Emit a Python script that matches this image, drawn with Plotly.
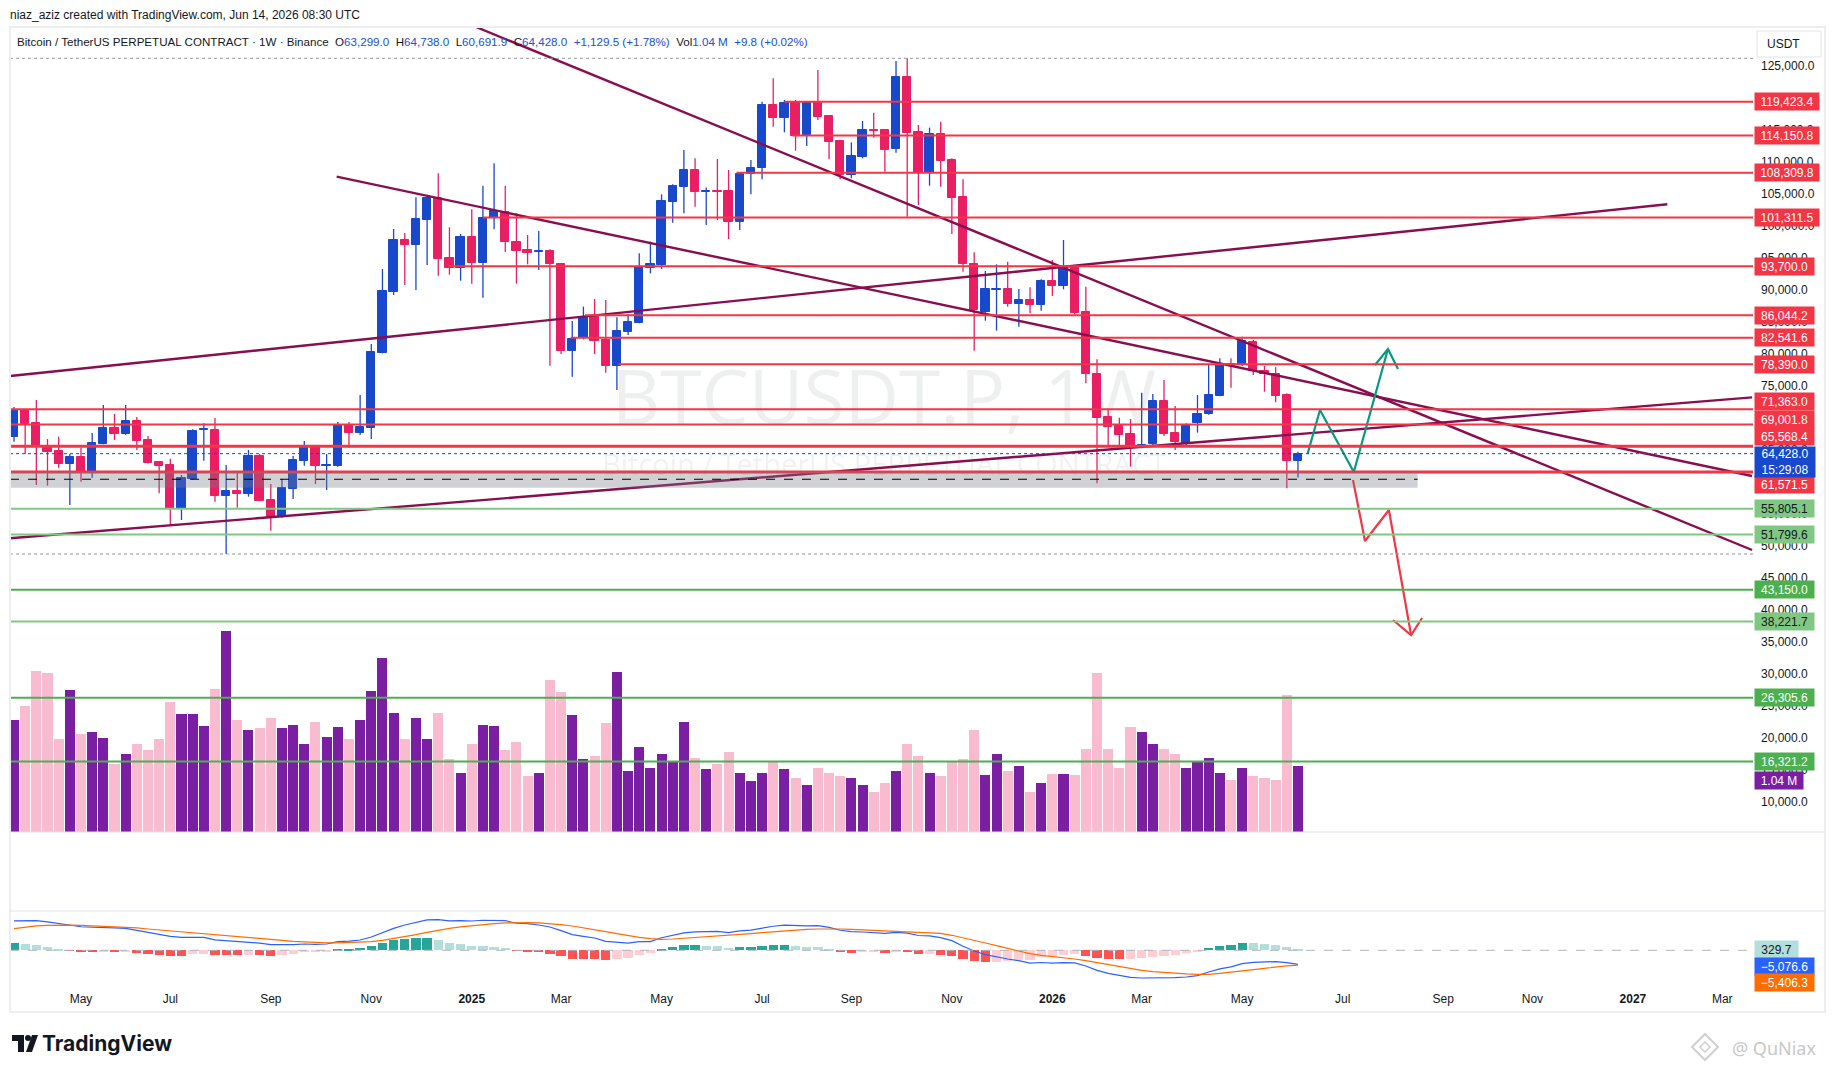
import pandas as pd
import plotly.graph_objects as go

W, H = 1835, 1073

# ---- weekly candles BTCUSDT.P (Binance, 1W), first bar = week of 2024-03-25
first_week = '2024-03-25'
opens = [67080, 71250, 69170, 65520, 64840, 62870, 63910, 61620, 65940, 68440,
         67500, 69530, 66560, 63130, 62660, 55780, 60470, 68130, 68130, 57870,
         58590, 58180, 64060, 57190, 54580, 58910, 63330, 65470, 62550, 62550,
         68850, 67710, 68490, 80210, 89740, 97810, 97030, 100940, 104430, 94950,
         93490, 98230, 94270, 101200, 102240, 97450, 96250, 95990, 96090, 94010,
         80520, 82450, 85830, 82190, 78180, 83440, 84900, 93490, 93910, 103800,
         106150, 108750, 105370, 105470, 105470, 100680, 108130, 109060, 118910, 116930,
         119170, 114220, 119170, 117190, 113280, 107970, 110830, 115000, 115000, 111980,
         123230, 114640, 108230, 114320, 110310, 104480, 94010, 86620, 90000, 90100,
         87810, 88440, 87660, 91410, 90630, 93490, 86560, 76820, 70210, 68800,
         67500, 65420, 65940, 72660, 67600, 65890, 69170, 70570, 73490, 78440,
         78280, 81930, 77340, 76820, 73590, 63299]
highs = [71720, 71400, 72810, 66720, 67080, 64380, 65370, 67660, 72030, 70630,
         72030, 70160, 67190, 63230, 63650, 61090, 68230, 69170, 70000, 62660,
         61720, 65000, 64380, 59690, 60470, 64060, 66410, 65500, 64380, 69380,
         69380, 73590, 81560, 93280, 99530, 98910, 104480, 104840, 108230, 99790,
         98750, 102600, 106300, 109790, 106300, 101980, 98590, 99220, 96350, 94170,
         85160, 87400, 88590, 88440, 85730, 86250, 95730, 97550, 104950, 106510,
         111880, 110570, 106000, 110470, 108750, 108230, 110310, 119430, 123070, 119690,
         119690, 119380, 124380, 117340, 113440, 113070, 116410, 117710, 115110, 125780,
         126200, 115780, 115370, 116300, 110570, 107290, 95890, 92970, 94010, 94430,
         90160, 90420, 91670, 94690, 97810, 93650, 90520, 79170, 71250, 70050,
         69840, 73960, 73750, 75940, 71880, 69170, 73590, 78280, 79320, 79320,
         82710, 82190, 78130, 77920, 73860, 64738]
lows = [66300, 64380, 59530, 59430, 62240, 56410, 60050, 60680, 65900, 66560,
        67400, 65000, 62900, 58230, 53280, 54060, 60400, 63330, 56930, 48750,
        55990, 57710, 57000, 52400, 54430, 57340, 62550, 59690, 58750, 62400,
        65370, 67340, 66720, 80100, 89220, 90780, 90000, 93910, 92240, 92400,
        91460, 90990, 88800, 99480, 95940, 90990, 94010, 93130, 78180, 80000,
        76460, 82300, 80000, 77080, 74380, 82970, 84800, 92600, 93280, 100520,
        101980, 103020, 100160, 100940, 97970, 99380, 104950, 107290, 115520, 114640,
        111770, 112500, 116560, 110420, 107290, 107450, 110570, 113800, 108490, 111460,
        101460, 103280, 106300, 106150, 98750, 92870, 80520, 85210, 83650, 87400,
        84270, 86360, 86770, 89060, 90100, 86200, 75420, 59790, 65520, 65520,
        62400, 65260, 65780, 67190, 65000, 65630, 67710, 70500, 73400, 74740,
        78130, 76720, 74110, 72450, 59010, 60691.9]
closes = [71250, 69010, 65420, 64740, 62870, 63910, 61620, 66040, 68490, 67500,
          69530, 66410, 62970, 62500, 55780, 60570, 67970, 68230, 57870, 58590,
          58180, 64060, 57080, 54580, 59010, 63440, 65470, 62550, 62660, 68850,
          67710, 68590, 80310, 89840, 97810, 97030, 101090, 104430, 94840, 93490,
          98230, 94270, 101200, 102340, 97450, 96150, 95830, 96040, 94010, 80520,
          82290, 85830, 82080, 78180, 83590, 85000, 93650, 94010, 103910, 106250,
          108750, 105370, 105470, 105370, 100680, 108130, 109060, 118910, 116930, 119170,
          114060, 119170, 117080, 113180, 107970, 110940, 115000, 114900, 111880, 123230,
          114580, 108230, 114320, 110210, 104430, 94010, 86880, 90100, 90100, 87810,
          88440, 87660, 91410, 90630, 93650, 86360, 76820, 70050, 68650, 67340,
          65420, 65780, 72660, 67500, 66200, 68750, 70570, 73590, 78440, 78100,
          82030, 77340, 76820, 73490, 63298.5, 64428]
# volume in millions
volume_m = [1.77, 1.99, 2.54, 2.51, 1.47, 2.24, 1.55, 1.58, 1.48, 1.08,
            1.24, 1.40, 1.29, 1.47, 2.05, 1.86, 1.86, 1.67, 2.27, 3.18,
            1.77, 1.61, 1.64, 1.81, 1.64, 1.70, 1.39, 1.74, 1.50, 1.66,
            1.47, 1.78, 2.23, 2.76, 1.89, 1.47, 1.80, 1.47, 1.88,
            1.15, 0.94, 1.39, 1.70, 1.67, 1.29, 1.42, 0.88, 0.93, 2.40,
            2.21, 1.85, 1.15, 1.20, 1.72, 2.53, 0.96, 1.34, 1.01, 1.24,
            1.10, 1.74, 1.17, 0.99, 1.07, 1.26, 0.94, 0.80, 0.94, 1.12,
            0.99, 0.86, 0.74, 1.01, 0.93, 0.88, 0.85, 0.74, 0.64, 0.77,
            0.96, 1.39, 1.21, 0.94, 0.88, 1.10, 1.15, 1.62, 0.90, 1.24,
            0.96, 1.05, 0.64, 0.77, 0.91, 0.91, 0.90, 1.31, 2.51, 1.31,
            1.01, 1.66, 1.58, 1.39, 1.32, 1.24, 1.01, 1.13, 1.17, 0.94,
            0.83, 1.01, 0.88, 0.86, 0.83, 2.16, 1.04]
# MACD (12, 26, 9)
macd_hist = [2780, 2300, 1940, 1210, 480, -240, -480, -530, -370, -470,
             -420, -950, -1310, -1680, -1950, -2000, -1470, -1210, -1790, -1840,
             -1840, -1680, -1740, -1950, -1680, -1210, -740, -630, -370, 480,
             580, 840, 1680, 2780, 3730, 4210, 4470, 4490, 3730, 2680,
             2310, 1680, 1580, 1210, 840, -210, -370, -740, -1210, -2160,
             -3160, -3160, -3160, -3520, -3050, -2680, -1580, -1100, 580, 1210,
             1940, 1960, 1580, 1580, 840, 1210, 1250, 1580, 1950, 1990,
             1580, 1210, 1210, 470, -470, -840, -790, -740, -950, -470,
             -530, -1210, -1160, -1580, -1950, -3160, -3890, -4210, -4160, -3890,
             -3520, -3470, -2600, -2450, -1850, -1450, -1950, -2790, -3160, -3210,
             -3160, -2790, -2310, -1950, -1580, -1100, -470, 840, 1580, 1950,
             2680, 2630, 2310, 1950, 1210, 329.7]
macd_signal = [7870, 8470, 8830, 9080, 9200, 9140, 9020, 8890, 8710, 8590,
               8350, 8110, 7740, 7380, 7020, 6660, 6290, 5930, 5570, 5320,
               4960, 4720, 4360, 3990, 3630, 3270, 3030, 2780, 2660, 2660,
               2780, 2900, 3150, 3630, 4240, 4960, 5690, 6530, 7380, 7990,
               8470, 8950, 9320, 9680, 9920, 10040, 10040, 9920, 9680, 9320,
               8830, 8230, 7620, 6780, 6050, 5320, 4720, 4240, 3990, 4110,
               4360, 4720, 5080, 5320, 5570, 5810, 6050, 6410, 6780, 7140,
               7380, 7620, 7740, 7870, 7740, 7620, 7440, 7260, 7080, 6960,
               6780, 6590, 6410, 6170, 5450, 4600, 3630, 2660, 1690, 730,
               -240, -1210, -1820, -2180, -2660, -3150, -3750, -4480, -5200, -5930,
               -6660, -7260, -7740, -8110, -8350, -8590, -8710, -8710, -8350, -7990,
               -7500, -7020, -6530, -6050, -5690, -5406.3]
macd_line = [10650, 10770, 10770, 10290, 9680, 8900, 8540, 8360, 8340, 8120,
             7930, 7160, 6430, 5700, 5070, 4660, 4820, 4720, 3780, 3480,
             3120, 3040, 2620, 2040, 1950, 2060, 2290, 2150, 2290, 3140,
             3360, 3740, 4830, 6410, 7970, 9170, 10160, 11020, 11110, 10670,
             10780, 10630, 10900, 10890, 10760, 9830, 9670, 9180, 8470, 7160,
             5670, 5070, 4460, 3260, 3000, 2640, 3140, 3140, 4570, 5320,
             6300, 6680, 6660, 6900, 6410, 7020, 7300, 7990, 8730, 9130,
             8960, 8830, 8950, 8340, 7270, 6780, 6650, 6520, 6130, 6490,
             6250, 5380, 5250, 4590, 3500, 1440, -260, -1550, -2470, -3160,
             -3760, -4680, -4420, -4630, -4510, -4600, -5700, -7270, -8360, -9140,
             -9820, -10050, -10050, -10060, -9930, -9690, -9180, -7870, -6770, -6040,
             -4820, -4390, -4220, -4100, -4480, -5076.6]

# ---- drawings on the chart
red_levels = [119423.4, 114150.8, 108309.8, 101311.5, 93700.0, 86044.2,
              82541.6, 78390.0, 71363.0, 69001.8, 65568.4, 61571.5]
red_level_start = ['2025-07-21', '2025-07-26', '2025-06-21', '2025-01-13', '2024-12-22',
                   '2025-03-18', '2025-03-09', '2025-04-08', None, None, None, None]
green_levels = [55805.1, 51799.6, 43150.0, 38221.7, 26305.6, 16321.2]
green_light = [True, True, False, True, False, False]
zone_low, zone_high, zone_mid, zone_end = 59110, 61610, 60430, '2026-08-22'

trend_x = [['2025-01-08 16:00', '2027-03-19 17:00'],
           ['2024-10-13 07:00', '2027-03-19 17:00'],
           ['2024-03-22 12:00', '2027-01-25 14:00'],
           ['2024-03-22 12:00', '2027-03-19 17:00']]
trend_y = [[131094, 49375], [107703, 60938], [76562, 103391], [51203, 73219]]

bull_x = ['2026-06-14', '2026-06-21 19:00', '2026-07-13', '2026-08-03 10:00']
bull_y = [64375, 71250, 61562, 80781]
bull_head_x = ['2026-07-26 07:00', '2026-08-03 10:00', '2026-08-09 17:00']
bull_head_y = [78281, 80781, 77656]
bear_x = ['2026-07-12 12:00', '2026-07-20', '2026-08-04', '2026-08-17 22:00']
bear_y = [60312, 50781, 55625, 36094]
bear_head_x = ['2026-08-06 14:00', '2026-08-17 22:00', '2026-08-24 19:00']
bear_head_y = [38437, 36094, 38750]

month_ticks = ['2024-05-06', '2024-07-01', '2024-09-02', '2024-11-04', '2025-01-06', '2025-03-03',
               '2025-05-05', '2025-07-07', '2025-09-01', '2025-11-03', '2026-01-05', '2026-03-02',
               '2026-05-04', '2026-07-06', '2026-09-07', '2026-11-02', '2027-01-04', '2027-03-01']
month_text = ['May', 'Jul', 'Sep', 'Nov', '<b>2025</b>', 'Mar', 'May', 'Jul', 'Sep', 'Nov',
              '<b>2026</b>', 'Mar', 'May', 'Jul', 'Sep', 'Nov', '<b>2027</b>', 'Mar']

# ---- colours
BLUE, RED = '#1848CC', '#E91E63'
LVL_RED, LVL_GREEN, LVL_GREEN_L = '#F23645', '#4CAF50', '#81C784'
VOL_UP, VOL_DN = '#7B1FA2', '#F8BBD0'
TREND = '#880E4F'
TXT = '#131722'
FONT = 'Liberation Sans, Arial, sans-serif'

# ---- screen geometry (pixels of the 1835x1073 picture)
PLOT_L, PLOT_R = 10, 1753
MAIN_T, MAIN_B, EMPTY_B, MACD_B = 27, 832, 911, 985
PX_DAY = 1.595           # pixels per day on the time scale
X0_PX = 14               # pixel of the first weekly bar
OFF = 8                  # page margin of the browser around the figure


def fx(px):
    return (px - OFF) / W


def fy(py):
    return 1 - (py - OFF) / H


base = pd.Timestamp(first_week)
x_left = base + pd.Timedelta(days=(PLOT_L - X0_PX) / PX_DAY)
x_right = base + pd.Timedelta(days=(PLOT_R - X0_PX) / PX_DAY)
DAY_MS = 86400000

dates = pd.date_range(first_week, periods=len(opens), freq='7D')
is_up = [c >= o for o, c in zip(opens, closes)]
candle_col = [BLUE if u else RED for u in is_up]
vol_col = [VOL_UP if u else VOL_DN for u in is_up]

hist_col = []
for i, v in enumerate(macd_hist):
    prev = macd_hist[i - 1] if i else v - 1
    if v >= 0:
        hist_col.append('#26A69A' if v > prev else '#B2DFDB')
    else:
        hist_col.append('#FFCDD2' if v > prev else '#FF5252')

fig = go.Figure()

# watermark
fig.add_trace(go.Scatter(
    x=[base + pd.Timedelta(days=(884 - X0_PX) / PX_DAY)] * 2, y=[72031, 62187],
    mode='text', text=['BTCUSDT.P, 1W', 'Bitcoin / TetherUS PERPETUAL CONTRACT'],
    textfont=dict(family='Open Sans', size=[75, 29], color='rgba(42,46,57,0.08)'),
    hoverinfo='skip', showlegend=False, zorder=-5))

# volume overlay
fig.add_trace(go.Bar(x=dates, y=volume_m, yaxis='y2', marker=dict(color=vol_col, line=dict(width=0)),
                     width=6.3 * DAY_MS, showlegend=False))

# candles: wicks + bodies
for col in (BLUE, RED):
    wx, wy = [], []
    for d, hi, lo, c in zip(dates, highs, lows, candle_col):
        if c == col:
            wx += [d, d, None]
            wy += [lo, hi, None]
    fig.add_trace(go.Scatter(x=wx, y=wy, mode='lines', line=dict(color=col, width=1.3),
                             hoverinfo='skip', showlegend=False))
fig.add_trace(go.Bar(x=dates, y=[abs(c - o) for o, c in zip(opens, closes)],
                     base=[min(o, c) for o, c in zip(opens, closes)],
                     marker=dict(color=candle_col, line=dict(color=candle_col, width=1)),
                     width=5.2 * DAY_MS, showlegend=False, zorder=1))

# trend lines
for tx, ty in zip(trend_x, trend_y):
    fig.add_trace(go.Scatter(x=tx, y=ty, mode='lines', line=dict(color=TREND, width=2.4),
                             showlegend=False, zorder=2))
for px_, py_, col in ((bull_x, bull_y, '#089981'), (bull_head_x, bull_head_y, '#089981'),
                      (bear_x, bear_y, LVL_RED), (bear_head_x, bear_head_y, LVL_RED)):
    fig.add_trace(go.Scatter(x=px_, y=py_, mode='lines', line=dict(color=col, width=2.2),
                             showlegend=False, zorder=2))

# MACD pane
fig.add_trace(go.Bar(x=dates, y=macd_hist, yaxis='y4', marker=dict(color=hist_col, line=dict(width=0)),
                     width=5.8 * DAY_MS, showlegend=False))
fig.add_trace(go.Scatter(x=dates, y=macd_line, yaxis='y4', mode='lines',
                         line=dict(color='#2962FF', width=1.2), showlegend=False))
fig.add_trace(go.Scatter(x=dates, y=macd_signal, yaxis='y4', mode='lines',
                         line=dict(color='#FF6D00', width=1.2), showlegend=False))

# ---- shapes
shapes = []
xl, xr = str(x_left), str(x_right)
for lvl, st in zip(red_levels, red_level_start):
    w = 3 if lvl in (65568.4, 61571.5) else 2
    shapes.append(dict(type='line', xref='x', yref='y', x0=st or xl, x1=xr, y0=lvl, y1=lvl,
                       line=dict(color=LVL_RED, width=w)))
for lvl, light in zip(green_levels, green_light):
    shapes.append(dict(type='line', xref='x', yref='y', x0=xl, x1=xr, y0=lvl, y1=lvl,
                       line=dict(color=LVL_GREEN_L if light else LVL_GREEN, width=2)))
shapes.append(dict(type='line', xref='x', yref='y', x0=xl, x1=xr, y0=max(highs), y1=max(highs),
                   line=dict(color='#9598A1', width=1, dash='dot')))
shapes.append(dict(type='line', xref='x', yref='y', x0=xl, x1=xr, y0=min(lows), y1=min(lows),
                   line=dict(color='#9598A1', width=1, dash='dot')))
shapes.append(dict(type='line', xref='x', yref='y', x0=xl, x1=xr, y0=closes[-1], y1=closes[-1],
                   line=dict(color=BLUE, width=1, dash='dot')))
shapes.append(dict(type='rect', xref='x', yref='y', x0=xl, x1=zone_end, y0=zone_low, y1=zone_high,
                   line=dict(width=0), fillcolor='rgba(120,123,134,0.35)'))
shapes.append(dict(type='line', xref='x', yref='y', x0=xl, x1=zone_end, y0=zone_mid, y1=zone_mid,
                   line=dict(color='#000000', width=1.2, dash='dash')))
shapes.append(dict(type='line', xref='x', yref='y4', x0=xl, x1=xr, y0=0, y1=0,
                   line=dict(color='#B2B5BE', width=1, dash='dash')))
# frame and pane separators
shapes.append(dict(type='rect', xref='paper', yref='paper', x0=fx(PLOT_L), x1=fx(1825),
                   y0=fy(1012), y1=fy(MAIN_T), line=dict(color='#EDEEF1', width=2)))
for yy in (MAIN_B, EMPTY_B):
    shapes.append(dict(type='line', xref='paper', yref='paper', x0=fx(PLOT_L), x1=fx(1825),
                       y0=fy(yy), y1=fy(yy), line=dict(color='#E0E3EB', width=1)))
# USDT box
shapes.append(dict(type='rect', xref='paper', yref='paper', x0=fx(1757), x1=fx(1821),
                   y0=fy(57), y1=fy(31), line=dict(color='#E0E3EB', width=1), fillcolor='white'))
# TradingView logo
shapes.append(dict(type='rect', xref='paper', yref='paper', x0=fx(12), x1=fx(24), y0=fy(1041),
                   y1=fy(1035), line=dict(width=0), fillcolor=TXT))
shapes.append(dict(type='rect', xref='paper', yref='paper', x0=fx(18), x1=fx(24), y0=fy(1052),
                   y1=fy(1035), line=dict(width=0), fillcolor=TXT))
shapes.append(dict(type='circle', xref='paper', yref='paper', x0=fx(25), x1=fx(31), y0=fy(1041),
                   y1=fy(1035), line=dict(width=0), fillcolor=TXT))
shapes.append(dict(type='path', xref='paper', yref='paper', line=dict(width=0), fillcolor=TXT,
                   path='M %f %f L %f %f L %f %f L %f %f Z' % (fx(32), fy(1035), fx(38), fy(1035),
                                                               fx(32), fy(1052), fx(26), fy(1052))))
# watermark diamond
shapes.append(dict(type='path', xref='paper', yref='paper', line=dict(color='#D0D0D0', width=2),
                   path='M %f %f L %f %f L %f %f L %f %f Z' % (fx(1705), fy(1034), fx(1718), fy(1047),
                                                               fx(1705), fy(1060), fx(1692), fy(1047))))
shapes.append(dict(type='path', xref='paper', yref='paper', line=dict(color='#D0D0D0', width=1.5),
                   path='M %f %f L %f %f L %f %f L %f %f Z' % (fx(1705), fy(1042), fx(1710), fy(1047),
                                                               fx(1705), fy(1052), fx(1700), fy(1047))))

# ---- annotations
ann = []


def price_label(text, y, bg, fg, yref='y', yshift=0, width=62, height=15):
    ann.append(dict(text=text, x=fx(1754), xref='paper', xanchor='left', y=y, yref=yref,
                    yanchor='middle', yshift=yshift, showarrow=False, bgcolor=bg,
                    font=dict(family=FONT, size=12, color=fg), width=width, height=height,
                    borderpad=1, align='center'))


def page_text(text, x, y, size, color=TXT, family=FONT, xanchor='left'):
    ann.append(dict(text=text, x=fx(x), y=fy(y), xref='paper', yref='paper', xanchor=xanchor,
                    yanchor='middle', showarrow=False, borderpad=0,
                    font=dict(family=family, size=size, color=color)))


shift = {71363.0: 8, 69001.8: 4.5, 65568.4: 9.5, 61571.5: -13}
for lvl in red_levels:
    txt = '{:,.1f}'.format(lvl)
    price_label(txt, lvl, LVL_RED, 'white', yshift=shift.get(lvl, 0), width=62 if len(txt) > 8 else 57)
for lvl, light in zip(green_levels, green_light):
    price_label('{:,.1f}'.format(lvl), lvl, LVL_GREEN_L if light else LVL_GREEN,
                TXT if light else 'white', width=57)
price_label('{:,.1f}<br>15:29:08'.format(closes[-1]), closes[-1], BLUE, 'white',
            yshift=-8.5, width=58, height=28)
price_label('{:.2f} M'.format(volume_m[-1]), volume_m[-1], VOL_UP, 'white', yref='y2',
            yshift=-14, width=46)
price_label('{:,.1f}'.format(macd_hist[-1]), macd_hist[-1], '#B2DFDB', TXT, yref='y4', width=41)
price_label('{:,.1f}'.format(macd_line[-1]).replace('-', '\u2212'), macd_line[-1], '#2962FF', 'white',
            yref='y4', yshift=-2, width=57)
price_label('{:,.1f}'.format(macd_signal[-1]).replace('-', '\u2212'), macd_signal[-1], '#FF6D00', 'white',
            yref='y4', yshift=-17, width=57)

page_text('USDT', 1766, 44, 12)
page_text('niaz_aziz created with TradingView.com, Jun 14, 2026 08:30 UTC', 9, 15, 12)
bl = lambda s: '<span style="color:#2050D0">%s</span>' % s
chg = closes[-1] - closes[-2]
hdr = ('Bitcoin / TetherUS PERPETUAL CONTRACT \u00b7 1W \u00b7 Binance\u00a0\u00a0'
       'O' + bl('{:,.1f}'.format(opens[-1])) + '\u00a0\u00a0H' + bl('{:,.1f}'.format(highs[-1])) +
       '\u00a0\u00a0L' + bl('{:,.1f}'.format(lows[-1])) + '\u00a0\u00a0C' + bl('{:,.1f}'.format(closes[-1])) +
       '\u00a0\u00a0' + bl('+{:,.1f} (+{:.2f}%)'.format(chg, chg / closes[-2] * 100)) +
       '\u00a0\u00a0Vol' + bl('{:.2f}\u00a0M'.format(volume_m[-1])) + '\u00a0\u00a0' + bl('+9.8 (+0.02%)'))
page_text(hdr, 16, 42, 11.6)
page_text('<b>TradingView</b>', 41, 1043, 21, family='Inter')
page_text('@ QuNiax', 1731, 1048, 18, color='#C8C8C8', family='Noto Sans')

axis_font = dict(family=FONT, size=12, color=TXT)
fig.update_layout(
    width=W, height=H, autosize=False, margin=dict(l=0, r=0, t=0, b=0),
    paper_bgcolor='white', plot_bgcolor='white', barmode='overlay', bargap=0,
    showlegend=False, hovermode=False,
    xaxis=dict(domain=[fx(PLOT_L), fx(PLOT_R)], range=[xl, xr], type='date',
               anchor='free', position=fy(MACD_B - 1),
               tickvals=month_ticks, ticktext=month_text, ticks='', showgrid=False,
               zeroline=False, showline=False, tickfont=axis_font, ticklabelstandoff=6),
    yaxis=dict(domain=[fy(MAIN_B), fy(MAIN_T)],
               range=[125000 - (MAIN_B - 66) / 0.0064, 125000 + (66 - MAIN_T) / 0.0064],
               side='right', anchor='x', tickvals=list(range(10000, 125001, 5000)),
               tickformat=',.1f', ticks='', showgrid=False, zeroline=False, showline=False,
               tickfont=axis_font, ticklabelstandoff=7),
    yaxis2=dict(overlaying='y', range=[0, (MAIN_B - MAIN_T) / 63.2], visible=False),
    yaxis3=dict(domain=[fy(EMPTY_B), fy(MAIN_B)], range=[-1.24, 1.27], side='right', anchor='x',
                tickvals=[1, 0, -1], ticktext=['1', '0', '\u22121'], ticks='', showgrid=False,
                zeroline=False, showline=False, tickfont=axis_font, ticklabelstandoff=7),
    yaxis4=dict(domain=[fy(MACD_B), fy(EMPTY_B)],
                range=[-(MACD_B - 950.3) * 363, (950.3 - EMPTY_B) * 363], side='right', anchor='x',
                showticklabels=False, ticks='', showgrid=False, zeroline=False, showline=False),
    shapes=shapes, annotations=ann,
)

fig.write_html('out.html')
